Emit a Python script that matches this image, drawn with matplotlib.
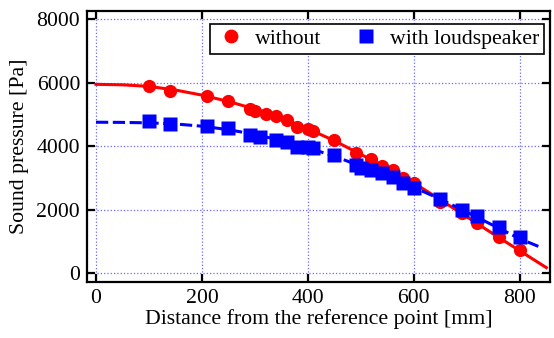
import matplotlib
matplotlib.use("Agg")
import matplotlib.pyplot as plt

# ---- data ----
x_without = [100, 140, 210, 250, 290, 300, 320, 340, 360, 380, 400, 410, 450,
             490, 520, 540, 560, 580, 600, 650, 690, 720, 760, 800]
y_without = [5900, 5750, 5580, 5430, 5170, 5120, 5030, 4950, 4810, 4610, 4550, 4480, 4210,
             3800, 3610, 3370, 3240, 2990, 2830, 2240, 1880, 1580, 1120, 720]

x_with = [100, 140, 210, 250, 290, 310, 340, 360, 380, 400, 410, 450,
          490, 500, 520, 540, 560, 580, 600, 650, 690, 720, 760, 800]
y_with = [4800, 4700, 4630, 4580, 4350, 4300, 4210, 4140, 3980, 3970, 3950, 3720,
          3400, 3300, 3250, 3140, 3030, 2850, 2670, 2320, 2000, 1790, 1450, 1120]

fit_x_without = [0, 50, 100, 150, 200, 250, 300, 350, 400, 450, 500, 550, 600, 650, 700, 750, 800, 850]
fit_y_without = [5950, 5935, 5885, 5770, 5610, 5410, 5170, 4880, 4550, 4170, 3740, 3310, 2840,
                 2310, 1770, 1230, 700, 170]

fit_x_with = [0, 50, 100, 150, 200, 250, 300, 350, 400, 450, 500, 550, 600, 650, 700, 750, 800, 835]
fit_y_with = [4755, 4750, 4735, 4700, 4630, 4520, 4370, 4180, 3950, 3680, 3370, 3050, 2700,
              2330, 1920, 1500, 1080, 840]

xticks = [0, 200, 400, 600, 800]
yticks = [0, 2000, 4000, 6000, 8000]

plt.rcParams['font.family'] = ['Liberation Serif', 'DejaVu Serif']
FS = 15.7

fig = plt.figure(figsize=(5.54, 3.38), dpi=100)
ax = fig.add_axes([87/554, 1-282/338, (550-87)/554, (282-11)/338])

ax.plot(fit_x_without, fit_y_without, color='#ff0000', lw=2.2, zorder=3)
ax.plot(fit_x_with, fit_y_with, color='#0000ff', lw=2.2, linestyle=(0, (4, 1.5)), zorder=3)
ax.plot(x_without, y_without, 'o', color='#ff0000', ms=9.5, mec='none', label='without', zorder=4)
ax.plot(x_with, y_with, 's', color='#0000ff', ms=10, mec='none', label='with loudspeaker', zorder=5)

ax.set_xlim(-17, 857)
ax.set_ylim(-284, 8263)
ax.set_xticks(xticks)
ax.set_yticks(yticks)
ax.tick_params(direction='in', length=6, width=1.6, top=True, right=True, labelsize=FS, pad=5)
for s in ax.spines.values():
    s.set_linewidth(1.6)
ax.grid(True, color='#6a6aff', linestyle=':', linewidth=0.9)
ax.set_axisbelow(True)

ax.set_xlabel('Distance from the reference point [mm]', fontsize=FS, labelpad=1)
ax.set_ylabel('Sound pressure [Pa]', fontsize=FS, labelpad=5)

leg = ax.legend(loc='upper right', bbox_to_anchor=((544-87)/463, (282-24)/271), borderaxespad=0,
                ncol=2, fontsize=FS, frameon=True, fancybox=False, edgecolor='black',
                handletextpad=0.35, columnspacing=1.3, borderpad=0.22, handlelength=1.5,
                numpoints=1, markerscale=1.05)
leg.get_frame().set_linewidth(1.2)
leg.get_frame().set_alpha(1)

fig.savefig('out.png', dpi=100)
